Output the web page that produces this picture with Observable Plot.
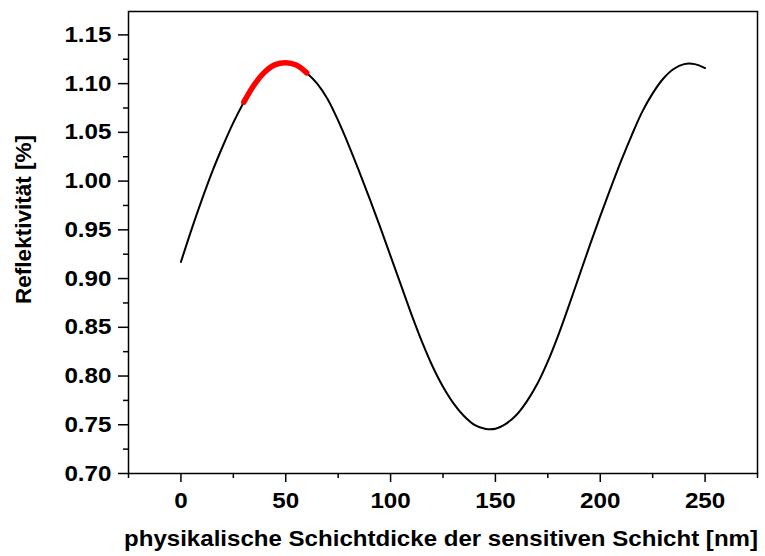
<!DOCTYPE html>
<html>
<head>
<meta charset="utf-8">
<script src="https://cdn.jsdelivr.net/npm/d3@7"></script>
<script src="https://cdn.jsdelivr.net/npm/@observablehq/plot@0.6"></script>
<style>
  html, body { margin: 0; padding: 0; background: #fff; }
  svg { display: block; }
</style>
</head>
<body>
<div id="chart"></div>
<script>
// physical thickness of the sensitive layer [nm]
const thickness = [0, 5, 10, 15, 20, 25, 30, 35, 40, 45, 50, 55, 60, 65, 70, 75, 80, 85, 90, 95, 100,
  105, 110, 115, 120, 125, 130, 135, 140, 145, 150, 155, 160, 165, 170, 175, 180, 185, 190, 195, 200,
  205, 210, 215, 220, 225, 230, 235, 240, 245, 250];
// reflectivity [%]
const reflectivity = [0.917, 0.950, 0.981, 1.010, 1.036, 1.060, 1.081, 1.099, 1.112, 1.1195, 1.1215, 1.119, 1.111, 1.100, 1.084, 1.062, 1.037, 1.010, 0.982, 0.953, 0.923,
  0.893, 0.863, 0.835, 0.810, 0.789, 0.772, 0.759, 0.750, 0.746, 0.746, 0.751, 0.760, 0.774, 0.792, 0.815, 0.842, 0.872, 0.903, 0.934, 0.964,
  0.993, 1.021, 1.047, 1.071, 1.090, 1.105, 1.115, 1.120, 1.120, 1.116];
// highlighted working range (red)
const highlightFrom = 30;
const highlightTo = 60;

const xMajorTicks = [0, 50, 100, 150, 200, 250];
const xMinorTicks = [-25, 25, 75, 125, 175, 225, 275];
const yMajorTicks = [0.70, 0.75, 0.80, 0.85, 0.90, 0.95, 1.00, 1.05, 1.10, 1.15];
const yMinorTicks = [0.725, 0.775, 0.825, 0.875, 0.925, 0.975, 1.025, 1.075, 1.125];
const xTitle = "physikalische Schichtdicke der sensitiven Schicht [nm]";
const yTitle = "Reflektivität [%]";

const data = thickness.map((t, i) => ({t, r: reflectivity[i]}));
const highlight = data.filter(d => d.t >= highlightFrom && d.t <= highlightTo);

const font = "'Liberation Sans', Arial, sans-serif";

const chart = Plot.plot({
  width: 765,
  height: 556,
  marginLeft: 128,
  marginRight: 8,
  marginTop: 11,
  marginBottom: 83,
  style: {fontFamily: font, fontWeight: "bold", fontSize: "22px", color: "black", background: "white"},
  x: {domain: [-25, 275]},
  y: {domain: [0.70, 1.174]},
  marks: [
    Plot.axisX(xMinorTicks, {tickSize: 5, tickFormat: () => "", label: null, strokeWidth: 1.5}),
    Plot.axisX(xMajorTicks, {tickSize: 9, tickPadding: 10, label: null, strokeWidth: 1.5, fontSize: 22, fontWeight: "bold"}),
    Plot.axisY(yMinorTicks, {tickSize: 5, tickFormat: () => "", label: null, strokeWidth: 1.5}),
    Plot.axisY(yMajorTicks, {tickSize: 10, tickPadding: 7, label: null, strokeWidth: 1.5, tickFormat: d3.format(".2f"), fontSize: 22, fontWeight: "bold"}),
    Plot.frame({stroke: "black", strokeWidth: 1.5}),
    Plot.line(data, {x: "t", y: "r", stroke: "black", strokeWidth: 2, curve: "catmull-rom"}),
    Plot.line(highlight, {x: "t", y: "r", stroke: "#ff0000", strokeWidth: 5.5, strokeLinecap: "round", curve: "catmull-rom"}),
    Plot.text([xTitle], {text: d => d, frameAnchor: "bottom", dy: 72, dx: -2, fontSize: 22, fontWeight: "bold", fill: "black"}),
    Plot.text([yTitle], {text: d => d, frameAnchor: "left", textAnchor: "middle", dx: -105, dy: -23, rotate: -90, fontSize: 22.5, fontWeight: "bold", fill: "black"})
  ]
});
document.getElementById("chart").appendChild(chart);
// the reference typeface is set slightly wider than the font's natural width
const tickLabels = new Set([...xMajorTicks.map(String), ...yMajorTicks.map(d3.format(".2f"))]);
chart.querySelectorAll("text").forEach(t => {
  const s = t.textContent;
  if (s === xTitle) {
    t.setAttribute("textLength", 634);
    t.setAttribute("lengthAdjust", "spacingAndGlyphs");
  } else if (tickLabels.has(s)) {
    const w = t.getComputedTextLength();
    if (w > 0) {
      t.setAttribute("textLength", (w * 1.1).toFixed(1));
      t.setAttribute("lengthAdjust", "spacingAndGlyphs");
    }
  }
});
</script>
</body>
</html>
